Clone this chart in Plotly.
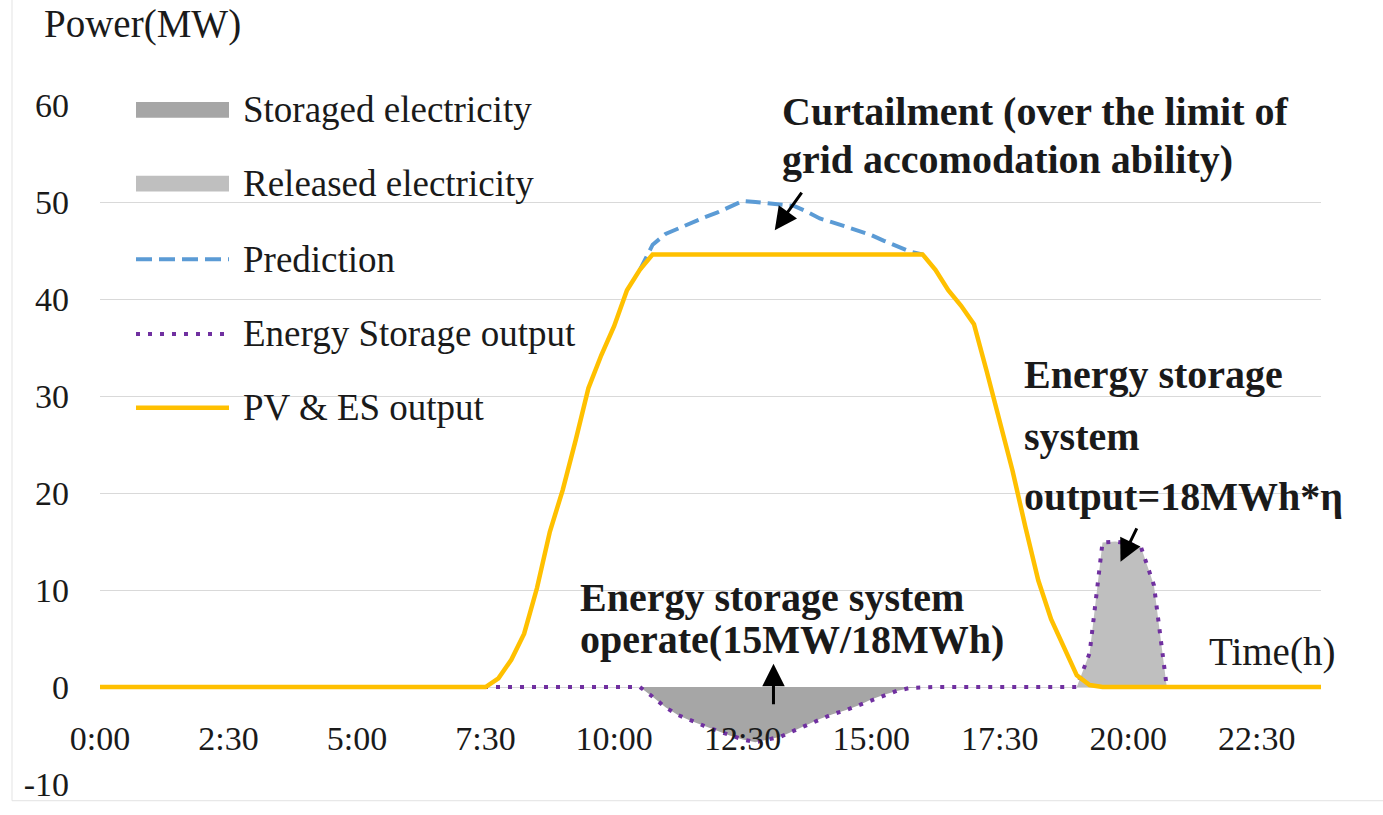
import plotly.graph_objects as go

# 15-minute time slots over one day
times = [f"{i // 4}:{(i % 4) * 15:02d}" for i in range(96)]
tick_labels = ["0:00", "2:30", "5:00", "7:30", "10:00", "12:30", "15:00", "17:30", "20:00", "22:30"]
y_ticks = [-10, 0, 10, 20, 30, 40, 50, 60]

# PV & ES output (MW), capped at the grid accommodation limit
pv_es_output = (
    [0.0] * 30
    + [0.0, 0.9, 2.8, 5.5, 10.2, 16.0, 20.3, 25.4, 30.8, 34.2, 37.2, 40.9, 43.0]
    + [44.6] * 22
    + [43.0, 40.9, 39.3, 37.4, 32.5, 27.5, 22.3, 16.5, 11.0, 7.0, 4.0, 1.2, 0.2]
    + [0.0] * 18
)

# PV prediction (MW) where it exceeds the limit
prediction = (
    [None] * 42
    + [43.0, 45.6, 46.7, 47.3, 47.9, 48.4, 48.9, 49.5, 50.1, 50.0, 49.9,
       49.8, 49.6, 49.0, 48.3, 47.9, 47.5, 47.0, 46.6, 46.0, 45.5, 44.9, 44.6]
    + [None] * 31
)

# Energy storage output (MW): negative = charging, positive = discharging
es_output = (
    [0.0] * 43
    + [-1.0, -2.1, -2.9, -3.5, -4.0, -4.5, -5.0, -5.4, -5.7, -5.4, -5.1,
       -4.5, -3.9, -3.3, -2.8, -2.4, -1.9, -1.3, -0.8, -0.4, -0.1]
    + [0.0] * 13
    + [3.5, 14.9, 15.0, 14.8, 14.4, 10.5]
    + [0.0] * 13
)

ORANGE = "#FFC000"
BLUE = "#5B9BD5"
PURPLE = "#7030A0"
DARK_GREY = "#A6A6A6"
LIGHT_GREY = "#BFBFBF"
SERIF = "Liberation Serif"
TEXT = "#1a1a1a"

W, H = 1383, 815
L, R, T, B = 100, 62, 105, 19
PW, PH = W - L - R, H - T - B


def px_x(p):
    return (p - L) / PW


def px_y(p):
    return (H - B - p) / PH


fig = go.Figure()

charge = slice(42, 65)
discharge = slice(76, 84)
fig.add_trace(go.Scatter(x=times[charge], y=es_output[charge], mode="lines",
                         fill="tozeroy", fillcolor=DARK_GREY, line=dict(width=0),
                         name="Storaged electricity", hoverinfo="skip"))
fig.add_trace(go.Scatter(x=times[discharge], y=es_output[discharge], mode="lines",
                         fill="tozeroy", fillcolor=LIGHT_GREY, line=dict(width=0),
                         name="Released electricity", hoverinfo="skip"))
fig.add_trace(go.Scatter(x=times, y=prediction, mode="lines", name="Prediction",
                         line=dict(color=BLUE, width=4, dash="15px,7px")))
fig.add_trace(go.Scatter(x=times, y=es_output, mode="lines", name="Energy Storage output",
                         line=dict(color=PURPLE, width=4, dash="4px,8px")))
fig.add_trace(go.Scatter(x=times, y=pv_es_output, mode="lines", name="PV & ES output",
                         line=dict(color=ORANGE, width=4.5)))

shapes = []
annotations = []

# legend drawn at the top-left of the plot area
legend_rows = [110, 185, 262, 338, 413]
sym_x0, sym_x1, text_x = 136, 229, 241
legend_styles = [
    ("rect", DARK_GREY, None),
    ("rect", LIGHT_GREY, None),
    ("line", BLUE, dict(width=4, dash="16px,7px")),
    ("line", PURPLE, dict(width=4, dash="4px,8px")),
    ("line", ORANGE, dict(width=4.5)),
]
for tr, yc, (kind, col, ln) in zip(fig.data, legend_rows, legend_styles):
    if kind == "rect":
        shapes.append(dict(type="rect", xref="paper", yref="paper",
                           x0=px_x(sym_x0), x1=px_x(sym_x1),
                           y0=px_y(yc + 8), y1=px_y(yc - 8),
                           fillcolor=col, line=dict(width=0)))
    else:
        shapes.append(dict(type="line", xref="paper", yref="paper",
                           x0=px_x(sym_x0), x1=px_x(sym_x1),
                           y0=px_y(yc), y1=px_y(yc),
                           line=dict(color=col, **ln)))
    annotations.append(dict(text=tr.name, xref="paper", yref="paper",
                            x=px_x(text_x), y=px_y(yc), xanchor="left", yanchor="middle",
                            showarrow=False, font=dict(family=SERIF, size=37, color=TEXT)))

# chart-area frame
shapes.append(dict(type="rect", xref="paper", yref="paper",
                   x0=px_x(12), x1=px_x(W + 5), y0=px_y(813), y1=px_y(-5),
                   line=dict(color="#e3e3e3", width=1), fillcolor="rgba(0,0,0,0)", layer="below"))


def label(text, x, y, size=40, bold=True):
    annotations.append(dict(text=f"<b>{text}</b>" if bold else text,
                            xref="paper", yref="paper", x=px_x(x), y=px_y(y),
                            xanchor="left", yanchor="middle", showarrow=False,
                            font=dict(family=SERIF, size=size, color=TEXT)))


label("Curtailment (over the limit of", 780, 112)
label("grid accomodation ability)", 780, 160)
label("Energy storage system", 578, 606)
label("operate(15MW/18MWh)", 578, 649)
label("Energy storage", 1022, 379)
label("system", 1022, 442)
label("output=18MWh*η", 1022, 503)
label("Power(MW)", 42, 23, size=39, bold=False)
label("Time(h)", 1207, 662, size=39, bold=False)


def arrow(x, y, ax, ay):
    annotations.append(dict(x=x, y=y, xref="x", yref="y", ax=ax, ay=ay, text="",
                            showarrow=True, arrowhead=2, arrowsize=1.5, arrowwidth=3,
                            arrowcolor="black", standoff=0))


arrow(52.5, 47.1, 28, -39)
arrow(52.4, 2.4, 0, 42)
arrow(79.4, 12.9, 17, -35)

fig.update_layout(
    width=W, height=H,
    margin=dict(l=L, r=R, t=T, b=B),
    paper_bgcolor="white", plot_bgcolor="white",
    showlegend=False,
    shapes=shapes, annotations=annotations,
    font=dict(family=SERIF, color=TEXT),
    xaxis=dict(type="category", categoryorder="array", categoryarray=times,
               range=[0, 95], tickvals=tick_labels, ticktext=tick_labels,
               showgrid=False, zeroline=False, showline=False, ticks="",
               anchor="free", position=10 / 70, ticklabelstandoff=28,
               tickfont=dict(family=SERIF, size=34, color=TEXT)),
    yaxis=dict(range=[-10, 60], tickvals=y_ticks, ticktext=[str(v) for v in y_ticks],
               showgrid=True, gridcolor="#d9d9d9",
               gridwidth=1.2, zeroline=False, showline=False, ticks="",
               ticklabelstandoff=30, tickfont=dict(family=SERIF, size=34, color=TEXT)),
)

fig.write_html("out.html")
